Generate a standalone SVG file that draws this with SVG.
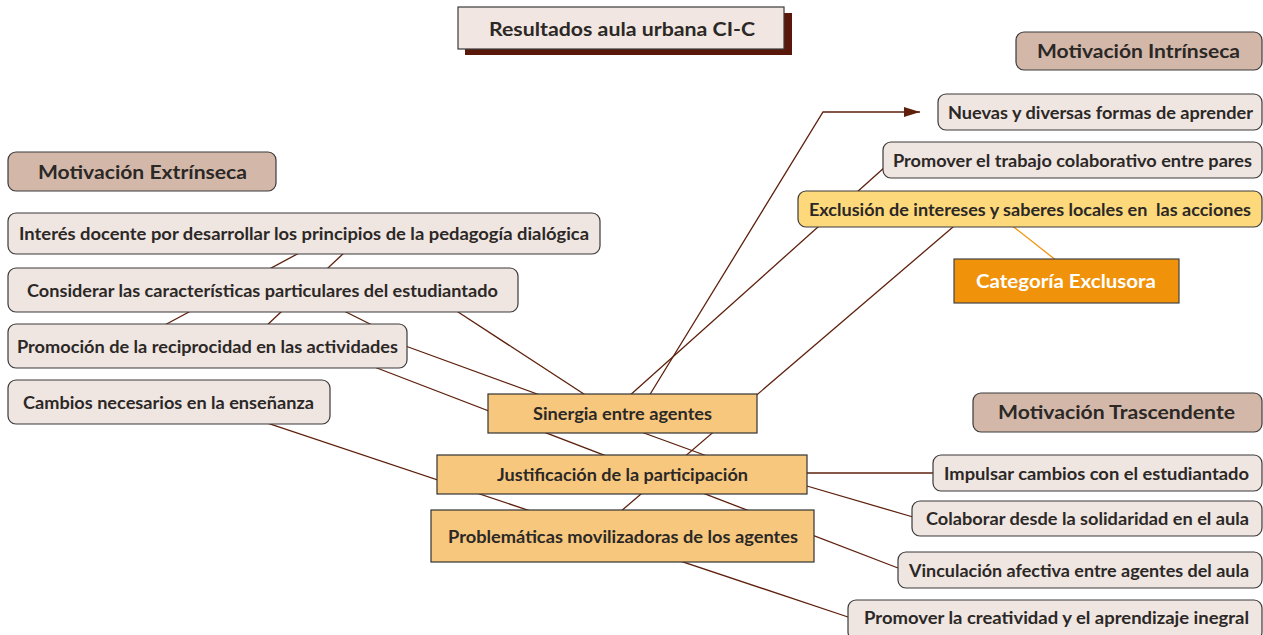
<svg xmlns="http://www.w3.org/2000/svg" width="1263" height="635" viewBox="0 0 1263 635">
<defs>
<style>
.ln{stroke:#5e200c;stroke-width:1.3;fill:none}
.lt{fill:#efe5e1;stroke:#3a3a3a;stroke-width:1.2}
.hd{fill:#d3b8aa;stroke:#3a3a3a;stroke-width:1.2}
.ct{fill:#f7c77e;stroke:#333;stroke-width:1.2}
.ex{fill:#fdd97c;stroke:#3a3a3a;stroke-width:1.2}
.cat{fill:#f0920a;stroke:#444;stroke-width:1.2}
text{font-family:Lato,"Open Sans","Liberation Sans",sans-serif;font-weight:bold;fill:#2b2826;white-space:pre}
.t16{font-size:16.5px}
.t18{font-size:19px}
.t19{font-size:19.5px}
.wt{fill:#ffffff}
</style>
<marker id="arr" viewBox="0 0 16 10" refX="16" refY="5" markerWidth="16" markerHeight="10" markerUnits="userSpaceOnUse" orient="auto">
<path d="M0,0 L16,5 L0,10 Z" fill="#5e200c"/>
</marker>
</defs>
<rect width="1263" height="635" fill="#ffffff"/>

<g id="connectors">
<line class="ln" x1="301" y1="252" x2="161" y2="327"/>
<line class="ln" x1="345" y1="252" x2="265" y2="327"/>
<line class="ln" x1="340" y1="309" x2="376" y2="327"/>
<line class="ln" x1="455" y1="310" x2="590" y2="398"/>
<line class="ln" x1="400" y1="344" x2="718" y2="460"/>
<line class="ln" x1="360" y1="361.5" x2="898" y2="568"/>
<line class="ln" x1="260" y1="420.7" x2="848" y2="617"/>
<line class="ln" x1="960" y1="221" x2="620" y2="512"/>
<line class="ln" x1="628" y1="397" x2="885" y2="167"/>
<polyline class="ln" points="649,396 823,112 920,112" marker-end="url(#arr)"/>
<line class="ln" x1="800" y1="473" x2="934" y2="473"/>
<line class="ln" x1="800" y1="484" x2="913" y2="517"/>
<line x1="1010" y1="224" x2="1057" y2="261" stroke="#f0920a" stroke-width="1.3"/>
</g>

<g id="title">
<rect x="465" y="13" width="327" height="42" fill="#5a180a"/>
<rect x="458" y="7" width="326" height="42" fill="#f1e6e1" stroke="#3a3a3a" stroke-width="1.2"/>
<text class="t19" x="489" y="35.5" textLength="266" lengthAdjust="spacingAndGlyphs">Resultados aula urbana CI-C</text>
</g>

<g id="mot-extrinseca">
<rect class="hd" x="8" y="152" width="268" height="39" rx="8"/>
<text class="t18" x="38" y="178.5" textLength="209" lengthAdjust="spacingAndGlyphs">Motivación Extrínseca</text>
</g>
<g id="interes">
<rect class="lt" x="8" y="213" width="592" height="41" rx="8"/>
<text class="t16" x="19" y="240" textLength="570" lengthAdjust="spacingAndGlyphs">Interés docente por desarrollar los principios de la pedagogía dialógica</text>
</g>
<g id="considerar">
<rect class="lt" x="8" y="268" width="510" height="44" rx="8"/>
<text class="t16" x="27" y="296.5" textLength="471" lengthAdjust="spacingAndGlyphs">Considerar las características particulares del estudiantado</text>
</g>
<g id="promocion">
<rect class="lt" x="8" y="324" width="399" height="44" rx="8"/>
<text class="t16" x="17" y="352.5" textLength="381" lengthAdjust="spacingAndGlyphs">Promoción de la reciprocidad en las actividades</text>
</g>
<g id="cambios">
<rect class="lt" x="8" y="380" width="322" height="44" rx="8"/>
<text class="t16" x="23" y="408.5" textLength="291" lengthAdjust="spacingAndGlyphs">Cambios necesarios en la enseñanza</text>
</g>

<g id="sinergia">
<rect class="ct" x="488" y="394" width="269" height="39"/>
<text class="t16" x="533" y="420" textLength="179" lengthAdjust="spacingAndGlyphs">Sinergia entre agentes</text>
</g>
<g id="justificacion">
<rect class="ct" x="437" y="455" width="370" height="39"/>
<text class="t16" x="497" y="481" textLength="251" lengthAdjust="spacingAndGlyphs">Justificación de la participación</text>
</g>
<g id="problematicas">
<rect class="ct" x="431" y="510" width="383" height="52"/>
<text class="t16" x="448" y="542.5" textLength="350" lengthAdjust="spacingAndGlyphs">Problemáticas movilizadoras de los agentes</text>
</g>

<g id="mot-intrinseca">
<rect class="hd" x="1016" y="32" width="246" height="38" rx="8"/>
<text class="t18" x="1037" y="58" textLength="203" lengthAdjust="spacingAndGlyphs">Motivación Intrínseca</text>
</g>
<g id="nuevas">
<rect class="lt" x="938" y="94" width="324" height="36" rx="8"/>
<text class="t16" x="948" y="118.5" textLength="305" lengthAdjust="spacingAndGlyphs">Nuevas y diversas formas de aprender</text>
</g>
<g id="promover-trabajo">
<rect class="lt" x="883" y="142" width="379" height="36" rx="8"/>
<text class="t16" x="893" y="166.5" textLength="359" lengthAdjust="spacingAndGlyphs">Promover el trabajo colaborativo entre pares</text>
</g>
<g id="exclusion">
<rect class="ex" x="798" y="191" width="464" height="36" rx="8"/>
<text class="t16" x="809" y="215.5" textLength="442" lengthAdjust="spacingAndGlyphs" xml:space="preserve">Exclusión de intereses y saberes locales en  las acciones</text>
</g>
<g id="categoria">
<rect class="cat" x="954" y="259" width="225" height="44"/>
<text class="t18 wt" x="976" y="288" textLength="180" lengthAdjust="spacingAndGlyphs">Categoría Exclusora</text>
</g>

<g id="mot-trascendente">
<rect class="hd" x="973" y="393" width="289" height="39" rx="8"/>
<text class="t18" x="998" y="419" textLength="237" lengthAdjust="spacingAndGlyphs">Motivación Trascendente</text>
</g>
<g id="impulsar">
<rect class="lt" x="933" y="455" width="329" height="36" rx="8"/>
<text class="t16" x="944" y="479.5" textLength="305" lengthAdjust="spacingAndGlyphs">Impulsar cambios con el estudiantado</text>
</g>
<g id="colaborar">
<rect class="lt" x="912" y="501" width="350" height="35" rx="8"/>
<text class="t16" x="926" y="525" textLength="323" lengthAdjust="spacingAndGlyphs">Colaborar desde la solidaridad en el aula</text>
</g>
<g id="vinculacion">
<rect class="lt" x="898" y="552" width="364" height="36" rx="8"/>
<text class="t16" x="909" y="576.5" textLength="340" lengthAdjust="spacingAndGlyphs">Vinculación afectiva entre agentes del aula</text>
</g>
<g id="promover-creatividad">
<rect class="lt" x="848" y="600" width="414" height="40" rx="8"/>
<text class="t16" x="864" y="624" textLength="385" lengthAdjust="spacingAndGlyphs">Promover la creatividad y el aprendizaje inegral</text>
</g>
</svg>
